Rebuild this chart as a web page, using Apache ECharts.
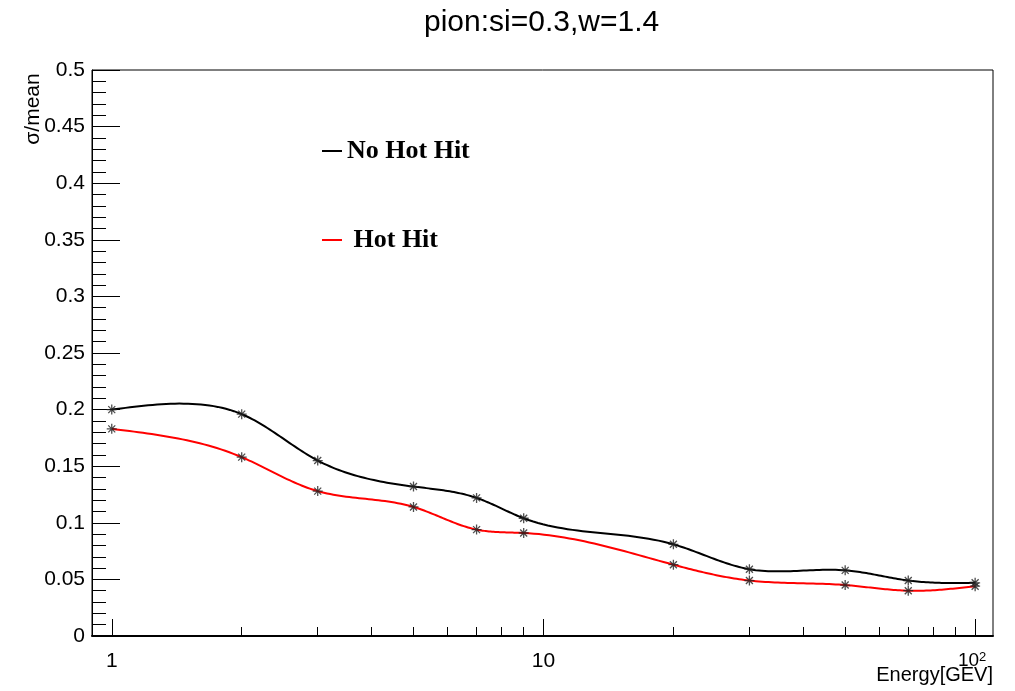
<!DOCTYPE html>
<html>
<head>
<meta charset="utf-8">
<script src="https://cdn.jsdelivr.net/npm/echarts@6/dist/echarts.min.js"></script>
<style>
html,body{margin:0;padding:0;background:#fff;}
#chart{width:1015px;height:691px;}
</style>
</head>
<body>
<div id="chart"></div>
<script>
const energies = [1, 2, 3, 5, 7, 9, 20, 30, 50, 70, 100];
const noHotHit = [0.200, 0.196, 0.155, 0.132, 0.122, 0.104, 0.081, 0.059, 0.058, 0.049, 0.047];
const hotHit   = [0.183, 0.158, 0.128, 0.114, 0.094, 0.091, 0.063, 0.049, 0.045, 0.040, 0.044];
const seriesNames = ['No Hot Hit', 'Hot Hit'];
const majorTicks = [1, 10, 100];
const minorTicks = [2, 3, 4, 5, 6, 7, 8, 9, 20, 30, 40, 50, 60, 70, 80, 90];
const titleText = 'pion:si=0.3,w=1.4';
const xName = 'Energy[GEV]';
const yName = 'σ/mean';

const chart = echarts.init(document.getElementById('chart'), null, {renderer: 'canvas'});
const star = 'path://M5 0L5 10M0 5L10 5M1.5 1.5L8.5 8.5M1.5 8.5L8.5 1.5';
const sans = 'Liberation Sans';

function pairs(ys){ return energies.map((x, i) => [x, ys[i]]); }

// natural cubic spline second derivatives
function splineM(t, v){
  const n = t.length, M = new Array(n).fill(0);
  if (n < 3) return M;
  const a = [], b = [], c = [], d = [];
  for (let i = 1; i < n - 1; i++) {
    const h0 = t[i] - t[i-1], h1 = t[i+1] - t[i];
    a.push(h0); b.push(2 * (h0 + h1)); c.push(h1);
    d.push(6 * ((v[i+1] - v[i]) / h1 - (v[i] - v[i-1]) / h0));
  }
  const m = b.length;
  for (let i = 1; i < m; i++) {
    const w = a[i] / b[i-1];
    b[i] -= w * c[i-1]; d[i] -= w * d[i-1];
  }
  const sol = new Array(m);
  sol[m-1] = d[m-1] / b[m-1];
  for (let i = m - 2; i >= 0; i--) sol[i] = (d[i] - c[i] * sol[i+1]) / b[i];
  for (let i = 0; i < m; i++) M[i+1] = sol[i];
  return M;
}
// parametric (chord-length) spline through pixel points
function smoothPath(pts, steps){
  const n = pts.length, t = [0];
  for (let i = 1; i < n; i++) {
    const dx = pts[i][0] - pts[i-1][0], dy = pts[i][1] - pts[i-1][1];
    t.push(t[i-1] + Math.sqrt(dx * dx + dy * dy));
  }
  const xs = pts.map(p => p[0]), ys = pts.map(p => p[1]);
  const Mx = splineM(t, xs), My = splineM(t, ys);
  const out = [];
  for (let i = 0; i < n - 1; i++) {
    const h = t[i+1] - t[i];
    for (let k = 0; k < steps; k++) {
      const s = t[i] + h * k / steps;
      const A = (t[i+1] - s) / h, B = (s - t[i]) / h;
      const f = (v, M) => A * v[i] + B * v[i+1] + ((A*A*A - A) * M[i] + (B*B*B - B) * M[i+1]) * h * h / 6;
      out.push([f(xs, Mx), f(ys, My)]);
    }
  }
  out.push(pts[n-1]);
  return out;
}

function curveSeries(name, ys, color, z){
  return {
    name: name, type: 'custom', xAxisIndex: 0, data: pairs(ys), z: z, clip: true,
    itemStyle: {color: color},
    renderItem: function(params, api){
      if (params.dataIndex !== 0) return null;
      const pts = energies.map((x, i) => api.coord([x, ys[i]]));
      return {type: 'polyline', shape: {points: smoothPath(pts, 30)},
        style: {stroke: color, lineWidth: 2, fill: null, lineJoin: 'round'}};
    }
  };
}
function markerSeries(name, ys, z){
  return {
    name: name, type: 'scatter', xAxisIndex: 0, data: pairs(ys), z: z,
    symbol: star, symbolSize: 10,
    itemStyle: {color: 'none', borderColor: '#222', borderWidth: 1.3}
  };
}

const option = {
  backgroundColor: '#fff',
  animation: false,
  title: {
    text: titleText, left: 419, top: 3,
    textStyle: {fontFamily: sans, fontSize: 30, fontWeight: 'normal', color: '#000'}
  },
  legend: {
    orient: 'vertical', left: 317, top: 131, itemGap: 59,
    itemWidth: 20, itemHeight: 2,
    textStyle: {fontFamily: 'Liberation Serif', fontWeight: 'bold', fontSize: 26, color: '#000', lineHeight: 30},
    formatter: n => n === 'Hot Hit' ? ' ' + n : n,
    data: [
      {name: seriesNames[0], icon: 'rect', itemStyle: {color: '#000', borderWidth: 0}},
      {name: seriesNames[1], icon: 'rect', itemStyle: {color: '#ff0000', borderWidth: 0}}
    ]
  },
  grid: {left: 92, right: 22, top: 70, bottom: 55, show: true, borderColor: '#000', borderWidth: 1, backgroundColor: 'transparent'},
  xAxis: [
    {
      type: 'log', logBase: 10, min: 0.9, max: 110, position: 'bottom',
      axisLine: {show: true, lineStyle: {color: '#000', width: 2}},
      axisTick: {show: true, inside: true, length: 17, customValues: majorTicks, lineStyle: {color: '#000'}},
      axisLabel: {
        show: true, margin: 15, customValues: majorTicks, color: '#000', fontFamily: sans, fontSize: 21,
        formatter: v => v >= 100 ? '{b|10}{s|2}' : String(Math.round(v)),
        rich: {
          b: {fontFamily: sans, fontSize: 19, color: '#000'},
          s: {fontFamily: sans, fontSize: 13, color: '#000', verticalAlign: 'top', padding: [0, 6, 6, 0]}
        }
      },
      splitLine: {show: false}
    },
    {
      type: 'log', logBase: 10, min: 0.9, max: 110, position: 'bottom',
      axisLine: {show: false},
      axisTick: {show: true, inside: true, length: 9, customValues: minorTicks, lineStyle: {color: '#000'}},
      axisLabel: {show: false},
      splitLine: {show: false}
    }
  ],
  yAxis: {
    type: 'value', min: 0, max: 0.5, interval: 0.05,
    axisLine: {show: true, lineStyle: {color: '#000', width: 1}},
    axisTick: {show: true, inside: true, length: 28, lineStyle: {color: '#000'}},
    minorTick: {show: true, splitNumber: 5, length: 14, lineStyle: {color: '#000'}},
    axisLabel: {color: '#000', fontFamily: sans, fontSize: 21, margin: 7, padding: [5, 0, 0, 0],
      formatter: v => v === 0 ? '0' : String(+v.toFixed(2))},
    splitLine: {show: false}
  },
  graphic: [
    {type: 'text', x: 33, y: 109, rotation: Math.PI / 2,
      style: {text: yName, fontFamily: sans, fontSize: 21, fill: '#000', textAlign: 'center', textVerticalAlign: 'middle'}},
    {type: 'text', x: 993, y: 675,
      style: {text: xName, fontFamily: sans, fontSize: 20, fill: '#000', textAlign: 'right', textVerticalAlign: 'middle'}}
  ],
  series: [
    curveSeries(seriesNames[0], noHotHit, '#000', 3),
    curveSeries(seriesNames[1], hotHit, '#ff0000', 2),
    markerSeries(seriesNames[0], noHotHit, 5),
    markerSeries(seriesNames[1], hotHit, 4)
  ]
};
chart.setOption(option);
</script>
</body>
</html>
